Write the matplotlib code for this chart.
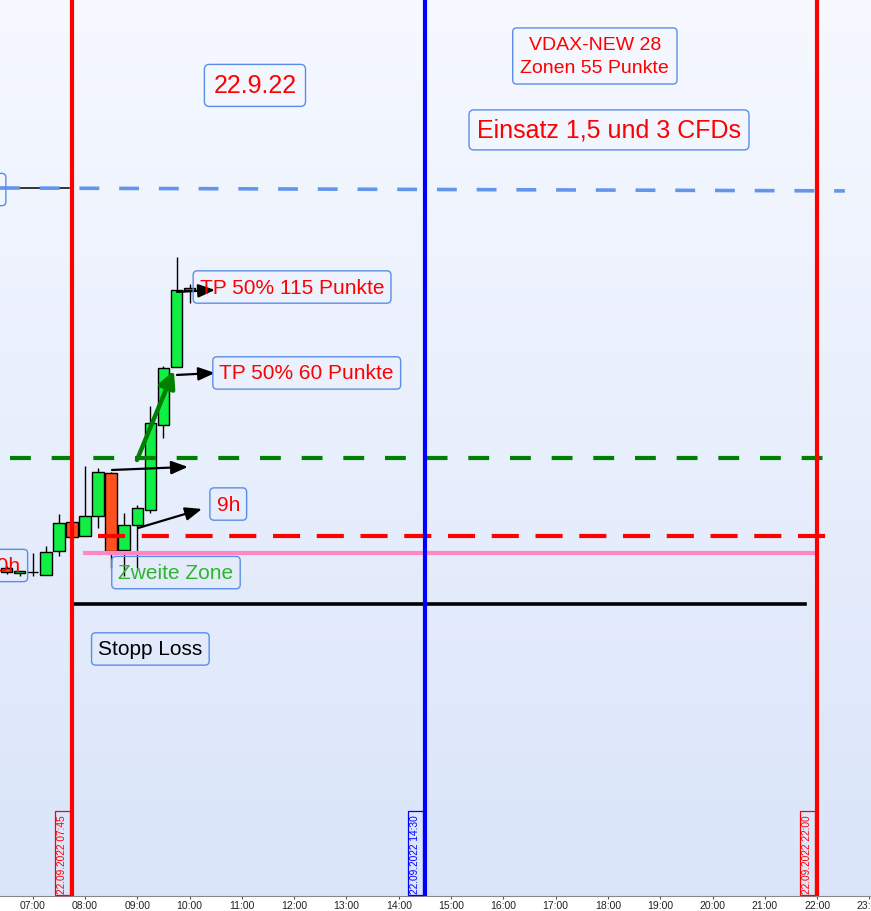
import numpy as np
import matplotlib
matplotlib.use("Agg")
from matplotlib import pyplot as plt

plt.rcParams['font.family'] = ['Liberation Sans', 'DejaVu Sans']

# 15 minute candles, 22.09.2022
times = ["06:30", "06:45", "07:00", "07:15", "07:30", "07:45", "08:00", "08:15",
         "08:30", "08:45", "09:00", "09:15", "09:30", "09:45", "10:00"]
opens = [12474, 12470.5, 12471, 12469, 12485, 12503.5, 12494.5, 12507.5,
         12535.5, 12485.5, 12502, 12511.5, 12566.5, 12604, 12654]
highs = [12475, 12472, 12483.5, 12488, 12509, 12505, 12540, 12539,
         12536, 12509.5, 12514.5, 12579, 12605, 12675.5, 12658]
lows = [12470, 12468.5, 12468.5, 12469, 12481.5, 12492.5, 12494.5, 12500,
        12474, 12468.5, 12474, 12509.5, 12558, 12604, 12646]
closes = [12471, 12472, 12471, 12484, 12503, 12494, 12507.5, 12536,
          12485, 12501.5, 12512.5, 12568, 12603.5, 12654, 12655.5]

# horizontal levels
level_blue = (12720.5, 12718.6)
level_green = 12545.2
level_red = 12494.5
level_pink = 12483.5
level_stop = 12450.4

# vertical markers
vline_times = ["07:45", "14:30", "22:00"]
vline_colors = ["#ff0000", "#0000ff", "#ff0000"]
hour_ticks = list(range(7, 24))


def to_hours(s):
    h, m = s.split(":")
    return int(h) + int(m) / 60.0


x = np.array([to_hours(t) for t in times])
o = np.array(opens)
c = np.array(closes)
hi = np.array(highs)
lo = np.array(lows)

fig = plt.figure(figsize=(8.71, 9.12), dpi=100)
ax = fig.add_axes([0, 15 / 912, 1, 897 / 912])
x0, x1 = 6.375, 23.03
y0, y1 = 12260.8, 12843.2

# background gradient
grad = np.linspace(0, 1, 256).reshape(-1, 1)
top = np.array([0.965, 0.975, 1.0])
bot = np.array([0.855, 0.898, 0.98])
img = top[None, None, :] * (1 - grad[:, :, None]) + bot[None, None, :] * grad[:, :, None]
ax.imshow(img, extent=(x0, x1, y0, y1), aspect="auto", origin="upper", zorder=0)

# candles
w = 0.22
ax.vlines(x, lo, hi, color="black", lw=1, zorder=2)
up = c >= o
body_col = np.where(up, "#11ee44", "#ff5020")
heights = np.where(np.abs(c - o) < 0.3, 0.3, c - o)
ax.bar(x, heights, bottom=o, width=w, color=body_col, edgecolor="black",
       lw=1, zorder=3)

# levels
ax.plot([6.375, 22.53], level_blue, color="#6495ed", lw=2.6, ls=(0, (5.5, 5.5)), zorder=4)
ax.plot([6.47, 7.7], [level_blue[0], level_blue[0]], color="black", lw=1.1, zorder=3.5)
ax.plot([6.57, 22.34], [level_green] * 2, color="#008000", lw=3, ls=(0, (5, 5)), zorder=4)
ax.plot([8.25, 22.24], [level_red] * 2, color="#ff0000", lw=3, ls=(0, (6.5, 4)), zorder=4)
ax.plot([8.0, 22.0], [level_pink] * 2, color="#ff88c4", lw=3, zorder=4)
ax.plot([7.75, 21.76], [level_stop] * 2, color="black", lw=2.6, zorder=4)

for t, col in zip(vline_times, vline_colors):
    xv = to_hours(t)
    ax.axvline(xv, color=col, lw=3, zorder=5)
    ax.annotate("22.09.2022 " + t, xy=(xv, y0), xytext=(-3.5, 2.5),
                textcoords="offset points", rotation=90, ha="right", va="bottom",
                fontsize=7.3, color=col, zorder=6,
                bbox=dict(boxstyle="square,pad=0.25", fc="none", ec=col, lw=0.9))

# arrows
arrows = [((8.516, 12537.4), (9.969, 12539.4)),
          ((9.013, 12499.7), (10.237, 12512.1)),
          ((9.759, 12599.1), (10.486, 12600.4)),
          ((9.759, 12653.0), (10.486, 12654.3))]
for (xa, ya), (xb, yb) in arrows:
    ax.annotate("", xy=(xb, yb), xytext=(xa, ya), zorder=7,
                arrowprops=dict(arrowstyle="-|>,head_length=1.0,head_width=0.4",
                                color="black", lw=1.6, shrinkA=0, shrinkB=0))
ax.annotate("", xy=(9.7, 12602.0), xytext=(8.994, 12543.9), zorder=7,
            arrowprops=dict(arrowstyle="-|>,head_length=1.0,head_width=0.5",
                            color="#008000", lw=3.2, shrinkA=0, shrinkB=0))

# text boxes
notes = [
    (11.25, 12787.1, "22.9.22", "#ff0000", 18, "center", 0.36),
    (17.75, 12806.2, "VDAX-NEW 28\nZonen 55 Punkte", "#ff0000", 14, "center", 0.4),
    (18.02, 12758.2, "Einsatz 1,5 und 3 CFDs", "#ff0000", 18, "center", 0.32),
    (11.96, 12656.2, "TP 50% 115 Punkte", "#ff0000", 15, "center", 0.32),
    (12.24, 12600.4, "TP 50% 60 Punkte", "#ff0000", 15, "center", 0.32),
    (10.74, 12515.3, "9h", "#ff0000", 15, "center", 0.32),
    (9.74, 12470.8, "Zweite Zone", "#2db52d", 15, "center", 0.32),
    (9.25, 12421.2, "Stopp Loss", "black", 15, "center", 0.32),
    (6.776, 12475.4, "10h", "#ff0000", 15, "right", 0.32),
    (6.36, 12719.5, "Hoch", "#ff0000", 15, "right", 0.32),
]
for xt, yt, s, col, fs, ha, pad in notes:
    box = dict(boxstyle="round,pad=%.2f,rounding_size=0.2" % pad, fc="none",
               ec="#5b8de8", lw=1)
    ax.text(xt, yt, s, color=col, fontsize=fs, ha=ha, va="center",
            linespacing=1.5, bbox=box, zorder=8, clip_on=False)

ax.set_xlim(x0, x1)
ax.set_ylim(y0, y1)
ax.set_xticks(hour_ticks)
ax.set_xticklabels(["%02d:00" % h for h in hour_ticks])
ax.tick_params(axis="x", length=2, width=0.8, color="#555555", labelsize=7.5,
               pad=1, labelcolor="#222222")
ax.set_yticks([])
for side in ["left", "right", "top"]:
    ax.spines[side].set_visible(False)
ax.spines["bottom"].set_color("#888888")

fig.savefig("out.png", dpi=100)
